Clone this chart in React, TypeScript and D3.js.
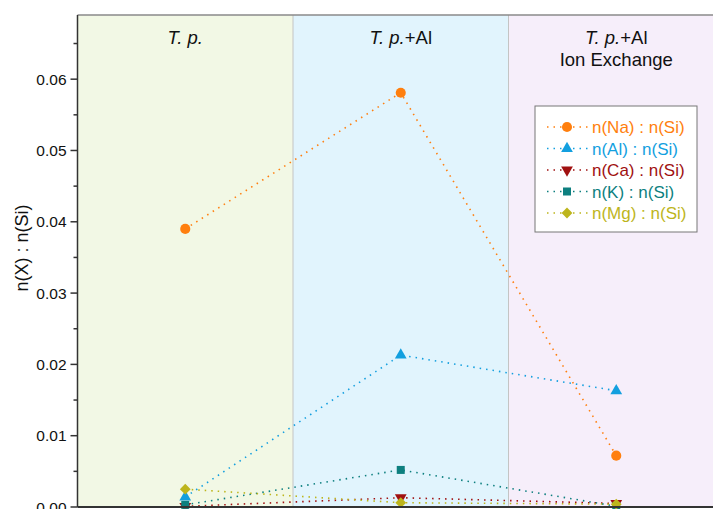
import React from "react";
import * as d3 from "d3";

const groups = ["T. p.", "T. p.+Al", "T. p.+Al Ion Exchange"];
const panelFills = ["#f2f8e5", "#e1f4fd", "#f6eefa"];

const naValues = [0.039, 0.0581, 0.0072];
const alValues = [0.0014, 0.0213, 0.0163];
const caValues = [0.0001, 0.0013, 0.0005];
const kValues = [0.0003, 0.0052, 0.0001];
const mgValues = [0.0025, 0.0006, 0.0004];

const seriesNames = ["n(Na) : n(Si)", "n(Al) : n(Si)", "n(Ca) : n(Si)", "n(K) : n(Si)", "n(Mg) : n(Si)"];
const seriesColors = ["#ff7f0e", "#139fdf", "#a01010", "#0d7f7f", "#bdb51c"];
const seriesShapes = ["circle", "triangle", "triangleDown", "square", "diamond"];
const seriesValues = [naValues, alValues, caValues, kValues, mgValues];

const yTicks = [0, 0.01, 0.02, 0.03, 0.04, 0.05, 0.06];
const yMinorTicks = [0.005, 0.015, 0.025, 0.035, 0.045, 0.055, 0.065];

const W = 713,
  H = 509;
const margin = { left: 77.5, top: 15, right: -11, bottom: 2 };

const symbolFor = (shape: string) => {
  switch (shape) {
    case "circle":
      return d3.symbol(d3.symbolCircle, 80)();
    case "triangle":
      return d3.symbol(d3.symbolTriangle, 60)();
    case "triangleDown":
      return d3.symbol(d3.symbolTriangle, 60)();
    case "square":
      return d3.symbol(d3.symbolSquare, 64)();
    default:
      // square turned 45°, wider than d3's own diamond
      return d3.symbol(d3.symbolSquare, 58)();
  }
};

const rotationFor = (shape: string) =>
  shape === "triangleDown" ? " rotate(180)" : shape === "diamond" ? " rotate(45)" : "";

export default function App() {
  const x = d3
    .scaleBand<string>()
    .domain(groups)
    .range([margin.left, W - margin.right]);
  const y = d3
    .scaleLinear()
    .domain([0, 0.069])
    .range([H - margin.bottom, margin.top]);

  const cx = (g: string) => (x(g) as number) + x.bandwidth() / 2;

  const line = d3
    .line<number>()
    .x((_, i) => cx(groups[i]))
    .y((d) => y(d));

  const font = "'Liberation Sans', Arial, sans-serif";
  const legendX = 535,
    legendY = 106;

  return (
    <svg
      width={W}
      height={H}
      style={{ position: "absolute", left: 0, top: 0, display: "block", background: "#fff" }}
      fontFamily={font}
    >
      {groups.map((g, i) => (
        <rect
          key={g}
          x={x(g)}
          y={margin.top}
          width={x.bandwidth()}
          height={y(0) - margin.top}
          fill={panelFills[i]}
        />
      ))}
      {groups.slice(1).map((g) => (
        <line key={g} x1={x(g)} x2={x(g)} y1={margin.top} y2={y(0)} stroke="#c4c4c4" strokeWidth={1} />
      ))}
      <line x1={margin.left} x2={W} y1={margin.top} y2={margin.top} stroke="#8a8a8a" strokeWidth={1.5} />

      {/* group titles */}
      <text x={cx(groups[0])} y={44} textAnchor="middle" fontSize={18.5} fontStyle="italic" fill="#111">
        T. p.
      </text>
      <text x={cx(groups[1])} y={44} textAnchor="middle" fontSize={18.5} fill="#111">
        <tspan fontStyle="italic">T. p.</tspan>+Al
      </text>
      <text x={cx(groups[2])} y={44} textAnchor="middle" fontSize={18.5} fill="#111">
        <tspan fontStyle="italic">T. p.</tspan>+Al
      </text>
      <text x={cx(groups[2])} y={66} textAnchor="middle" fontSize={18.5} fill="#111">
        Ion Exchange
      </text>

      {/* series */}
      {seriesValues.map((vals, s) => (
        <g key={seriesNames[s]}>
          <path
            d={line(vals) as string}
            fill="none"
            stroke={seriesColors[s]}
            strokeWidth={1.6}
            strokeDasharray="1.5 5"
          />
          {vals.map((v, i) => (
            <path
              key={i}
              d={symbolFor(seriesShapes[s]) as string}
              transform={`translate(${cx(groups[i])},${y(v)})${rotationFor(seriesShapes[s])}`}
              fill={seriesColors[s]}
            />
          ))}
        </g>
      ))}

      {/* axes */}
      <line x1={margin.left} x2={margin.left} y1={margin.top} y2={y(0)} stroke="#333" strokeWidth={1.5} />
      <line x1={margin.left} x2={W} y1={y(0)} y2={y(0)} stroke="#333" strokeWidth={2} />
      {yTicks.map((t) => (
        <g key={t}>
          <line x1={margin.left - 7} x2={margin.left} y1={y(t)} y2={y(t)} stroke="#333" strokeWidth={1.5} />
          <text x={margin.left - 11} y={y(t) + 5.5} textAnchor="end" fontSize={15.5} fill="#111">
            {d3.format(".2f")(t)}
          </text>
        </g>
      ))}
      {yMinorTicks.map((t) => (
        <line key={t} x1={margin.left - 4} x2={margin.left} y1={y(t)} y2={y(t)} stroke="#333" strokeWidth={1.5} />
      ))}
      <text
        transform={`translate(28,${248}) rotate(-90)`}
        textAnchor="middle"
        fontSize={18}
        fill="#111"
      >
        n(X) : n(Si)
      </text>

      {/* legend */}
      <rect x={legendX} y={legendY} width={162} height={126} fill="#fff" stroke="#777" strokeWidth={1} />
      {seriesNames.map((name, s) => {
        const ly = legendY + 21 + s * 21.5;
        return (
          <g key={name}>
            <line
              x1={legendX + 12}
              x2={legendX + 54}
              y1={ly}
              y2={ly}
              stroke={seriesColors[s]}
              strokeWidth={1.6}
              strokeDasharray="1.5 5"
            />
            <path
              d={symbolFor(seriesShapes[s]) as string}
              transform={`translate(${legendX + 32},${ly})${rotationFor(seriesShapes[s])}`}
              fill={seriesColors[s]}
            />
            <text x={legendX + 57} y={ly + 6} fontSize={17} fill={seriesColors[s]}>
              {name}
            </text>
          </g>
        );
      })}
    </svg>
  );
}
